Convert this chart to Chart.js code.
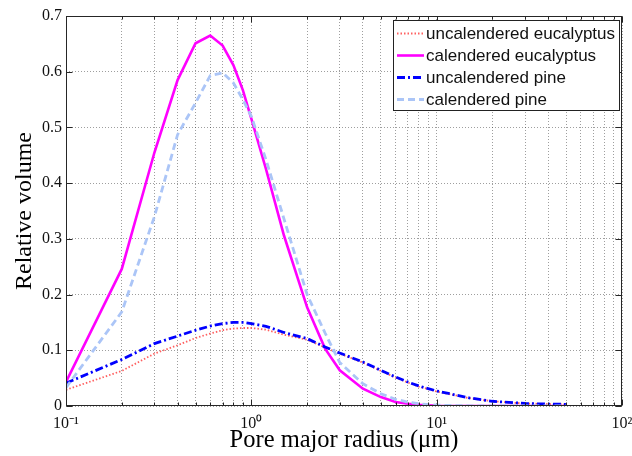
<!DOCTYPE html>
<html>
<head>
<meta charset="utf-8">
<script src="https://cdn.jsdelivr.net/npm/chart.js@4.4.1/dist/chart.umd.min.js"></script>
<style>
  html, body { margin: 0; padding: 0; background: #fff; }
  #wrap { width: 632px; height: 456px; }
</style>
</head>
<body>
<div id="wrap"><canvas id="pore-chart"></canvas></div>
<script>
// Values
const radius = [0.1, 0.2, 0.3, 0.4, 0.5, 0.6, 0.7, 0.8, 0.9, 1, 1.2, 1.5, 2, 2.5, 3, 4, 5, 6, 7, 8, 10, 15, 20, 30, 40, 50];
const uncalEucalyptus = [0.029, 0.063, 0.094, 0.109, 0.122, 0.130, 0.136, 0.139, 0.140, 0.140, 0.137, 0.128, 0.119, 0.105, 0.094, 0.078, 0.063, 0.051, 0.042, 0.035, 0.026, 0.014, 0.0085, 0.0045, 0.0035, 0.003];
const calEucalyptus = [0.043, 0.246, 0.455, 0.585, 0.651, 0.665, 0.647, 0.612, 0.567, 0.516, 0.425, 0.306, 0.177, 0.103, 0.064, 0.031, 0.016, 0.007, 0.004, 0.002, 0.0005, 0, 0, 0, 0, 0];
const uncalPine = [0.041, 0.0835, 0.112, 0.1255, 0.136, 0.1435, 0.148, 0.150, 0.150, 0.148, 0.143, 0.132, 0.121, 0.106, 0.095, 0.079, 0.064, 0.052, 0.043, 0.036, 0.027, 0.0145, 0.0085, 0.0045, 0.0035, 0.003];
const calPine = [0.033, 0.169, 0.34, 0.487, 0.544, 0.593, 0.598, 0.58, 0.55, 0.52, 0.442, 0.336, 0.2, 0.131, 0.078, 0.040, 0.022, 0.012, 0.007, 0.004, 0.0015, 0.0003, 0, 0, 0, 0];

const seriesLabels = ["uncalendered eucalyptus", "calendered eucalyptus", "uncalendered pine", "calendered pine"];

// Axis ticks
const xDecades = [0.1, 1, 10, 100];
const xDecadeLabels = ["10\u207B\u00B9", "10\u2070", "10\u00B9", "10\u00B2"];
const xMinorSteps = [1, 2, 3, 4, 5, 6, 7, 8, 9];
const yTicks = [0, 0.1, 0.2, 0.3, 0.4, 0.5, 0.6, 0.7];
const yTickLabels = ["0", "0.1", "0.2", "0.3", "0.4", "0.5", "0.6", "0.7"];

const serif = '"Times New Roman", "Liberation Serif", serif';
const sans = 'Arial, "Liberation Sans", sans-serif';

const toPoints = (values) => radius.map((r, i) => ({ x: r, y: values[i] }));

const styles = [
  { color: "#ff6060", width: 1.8, dash: [1.5, 2] },
  { color: "#ff00ff", width: 2.6, dash: [] },
  { color: "#0000ff", width: 2.8, dash: [8, 3, 2, 3] },
  { color: "#abc5f7", width: 2.8, dash: [7, 4] },
];

const allSeries = [uncalEucalyptus, calEucalyptus, uncalPine, calPine];

const datasets = allSeries.map((values, i) => ({
  label: seriesLabels[i],
  data: toPoints(values),
  borderColor: styles[i].color,
  borderWidth: styles[i].width,
  borderDash: styles[i].dash,
  pointRadius: 0,
  tension: 0,
  fill: false,
  order: 4 - i,
}));

// box around the plot with inward ticks, like the original axes
const framePlugin = {
  id: "frame",
  afterDatasetsDraw(chart) {
    const { ctx, chartArea: a, scales } = chart;
    const L = Math.round(a.left) + 0.5;
    const R = Math.round(a.right) - 0.5;
    const T = Math.round(a.top) + 0.5;
    const B = Math.round(a.bottom) - 0.5;
    ctx.save();
    ctx.strokeStyle = "#262626";
    ctx.lineWidth = 1;
    ctx.beginPath();
    scales.x.ticks.forEach((t) => {
      const px = Math.round(scales.x.getPixelForValue(t.value)) + 0.5;
      const len = t.major ? 6 : 3;
      ctx.moveTo(px, B);
      ctx.lineTo(px, B - len);
      ctx.moveTo(px, T);
      ctx.lineTo(px, T + len);
    });
    scales.y.ticks.forEach((t) => {
      const py = Math.round(scales.y.getPixelForValue(t.value)) + 0.5;
      ctx.moveTo(L, py);
      ctx.lineTo(L + 6, py);
      ctx.moveTo(R, py);
      ctx.lineTo(R - 6, py);
    });
    ctx.stroke();
    ctx.strokeRect(L, T, R - L, B - T);
    ctx.restore();
  },
};

// boxed legend in the top right corner of the plot
const legendPlugin = {
  id: "boxLegend",
  afterDraw(chart) {
    const { ctx, chartArea: a } = chart;
    const w = 226, h = 90, rowH = 22, sample = 27;
    const left = a.right - 3 - w;
    const top = a.top + 4;
    ctx.save();
    ctx.fillStyle = "#fff";
    ctx.fillRect(left, top, w, h);
    ctx.strokeStyle = "#222";
    ctx.lineWidth = 1;
    ctx.strokeRect(Math.round(left) + 0.5, Math.round(top) + 0.5, w, h);
    ctx.font = "17px " + sans;
    ctx.textBaseline = "middle";
    chart.data.datasets.forEach((ds, i) => {
      const cy = top + 13.5 + i * rowH;
      ctx.beginPath();
      ctx.setLineDash(ds.borderDash);
      ctx.strokeStyle = ds.borderColor;
      ctx.lineWidth = ds.borderWidth;
      ctx.moveTo(left + 4, cy);
      ctx.lineTo(left + 4 + sample, cy);
      ctx.stroke();
      ctx.setLineDash([]);
      ctx.fillStyle = "#111";
      ctx.fillText(ds.label, left + 33, cy + 1);
    });
    ctx.restore();
  },
};

const canvas = document.getElementById("pore-chart");
new Chart(canvas, {
  type: "line",
  data: { datasets: datasets },
  options: {
    responsive: true,
    maintainAspectRatio: false,
    animation: false,
    layout: { padding: { left: 0, right: 10, top: 16, bottom: 0 } },
    plugins: {
      legend: { display: false },
      tooltip: { enabled: false },
    },
    scales: {
      x: {
        type: "logarithmic",
        min: 0.1,
        max: 100,
        afterBuildTicks: (scale) => {
          const ticks = [];
          xDecades.slice(0, -1).forEach((d) => {
            xMinorSteps.forEach((m) => ticks.push({ value: m * d, major: m === 1 }));
          });
          ticks.push({ value: xDecades[xDecades.length - 1], major: true });
          scale.ticks = ticks;
        },
        afterFit: (scale) => {
          scale.height = 50;
          scale.paddingLeft = 0;
          scale.paddingRight = 0;
        },
        grid: { color: "rgba(0,0,0,0.38)", lineWidth: 1, drawTicks: false },
        border: { display: false, dash: [1, 2] },
        ticks: {
          autoSkip: false,
          maxRotation: 0,
          padding: 8,
          color: "#111",
          font: { family: serif, size: 16 },
          callback: (value) => {
            const idx = xDecades.findIndex((d) => Math.abs(Math.log10(d) - Math.log10(value)) < 1e-6);
            return idx >= 0 ? xDecadeLabels[idx] : "";
          },
        },
        title: {
          display: true,
          text: "Pore major radius (\u03BCm)",
          color: "#000",
          font: { family: serif, size: 24.5 },
          padding: { top: 0, bottom: 1 },
        },
      },
      y: {
        min: 0,
        max: 0.7,
        afterBuildTicks: (scale) => {
          scale.ticks = yTicks.map((v) => ({ value: v }));
        },
        afterFit: (scale) => {
          scale.width = 66;
        },
        grid: { color: "rgba(0,0,0,0.38)", lineWidth: 1, drawTicks: false },
        border: { display: false, dash: [1, 2] },
        ticks: {
          padding: 4,
          color: "#111",
          font: { family: serif, size: 16 },
          callback: (value, index) => yTickLabels[index],
        },
        title: {
          display: true,
          text: "Relative volume",
          color: "#000",
          font: { family: serif, size: 24 },
          padding: { top: 10, bottom: 0 },
        },
      },
    },
  },
  plugins: [framePlugin, legendPlugin],
});
</script>
</body>
</html>
